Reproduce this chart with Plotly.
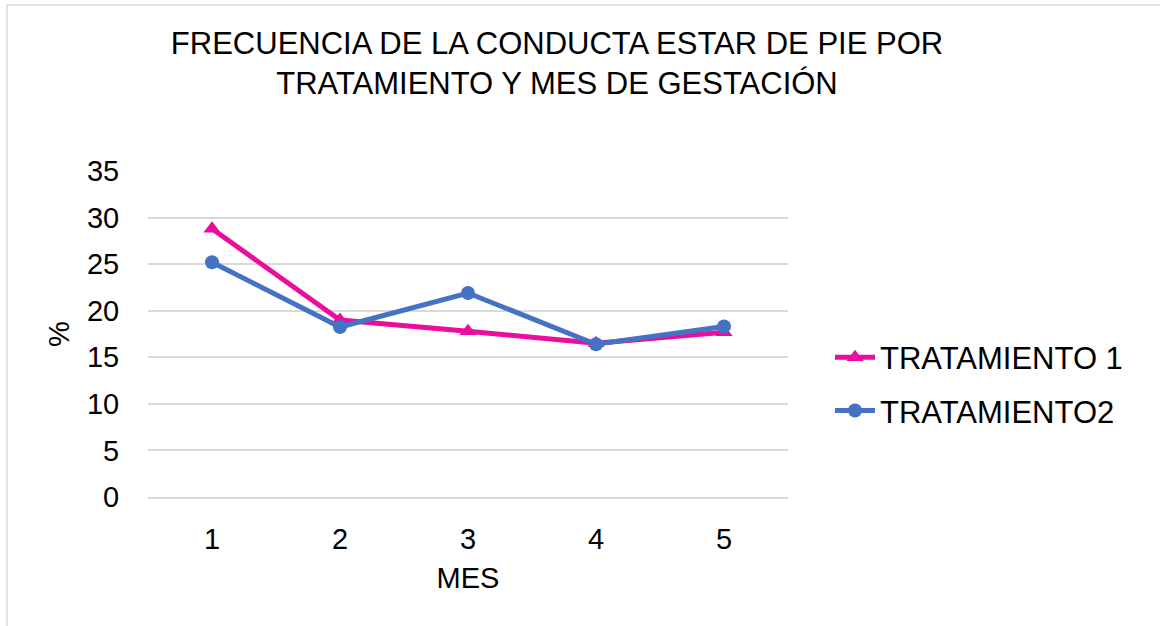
import plotly.graph_objects as go

meses = [1, 2, 3, 4, 5]
tratamiento1 = [28.8, 19.0, 17.8, 16.5, 17.7]
tratamiento2 = [25.2, 18.25, 21.9, 16.4, 18.3]
y_ticks = [0, 5, 10, 15, 20, 25, 30, 35]

FONT = "Liberation Sans, Arial, sans-serif"
PINK = "#E90E9E"
BLUE = "#4472C4"
GRID = "#D9D9D9"

fig = go.Figure()
fig.add_trace(go.Scatter(
    x=meses, y=tratamiento1, name="TRATAMIENTO 1", mode="lines+markers",
    legendgroup="t1",
    line=dict(color=PINK, width=5),
    marker=dict(symbol="triangle-up", size=15, color=PINK),
))
fig.add_trace(go.Scatter(
    x=meses, y=tratamiento2, name="TRATAMIENTO2", mode="lines+markers",
    legendgroup="t2",
    line=dict(color=BLUE, width=5),
    marker=dict(symbol="circle", size=14, color=BLUE),
))

W, H = 1160, 626
L, T = 148, 171
pw, ph = 640, 326
R = W - L - pw
B = H - T - ph

def px_to_paper_x(px):
    return (px - L) / pw

def px_to_paper_y(py):
    return (T + ph - py) / ph

fig.update_layout(
    width=W, height=H,
    margin=dict(l=L, r=R, t=T, b=B, autoexpand=False),
    paper_bgcolor="white", plot_bgcolor="white",
    font=dict(family=FONT, size=29, color="#000000"),
    title=dict(
        text="FRECUENCIA DE LA CONDUCTA ESTAR DE PIE POR<br>TRATAMIENTO Y MES DE GESTACIÓN",
        x=557 / W, xref="container", xanchor="center",
        y=1 - 54 / H, yref="container", yanchor="middle",
        font=dict(family=FONT, size=31, color="#000000"),
    ),
    xaxis=dict(
        range=[0.5, 5.5], tickvals=meses, ticktext=[str(m) for m in meses],
        showgrid=False, zeroline=False,
        showline=True, linecolor=GRID, linewidth=1.5,
        ticks="outside", ticklen=15, tickcolor="rgba(0,0,0,0)",
        title=dict(text="MES", standoff=14, font=dict(size=29)),
        tickfont=dict(size=29),
        automargin=False,
    ),
    yaxis=dict(
        range=[0, 35], tickvals=y_ticks,
        showgrid=True, gridcolor=GRID, gridwidth=1.5,
        zeroline=False, showline=False,
        ticks="outside", ticklen=22, tickcolor="rgba(0,0,0,0)",
        title=dict(text="%", standoff=8, font=dict(size=29)),
        tickfont=dict(size=29),
        automargin=False,
    ),
    legend=dict(
        x=px_to_paper_x(830), xanchor="left",
        y=px_to_paper_y(384), yanchor="middle",
        font=dict(size=31), tracegroupgap=10, itemwidth=40,
        bgcolor="rgba(0,0,0,0)",
    ),
    showlegend=True,
)

# chart border (left and top edges visible in the reference)
fig.add_shape(type="line", xref="paper", yref="paper",
              x0=px_to_paper_x(7), x1=px_to_paper_x(7),
              y0=px_to_paper_y(5), y1=px_to_paper_y(626),
              line=dict(color=GRID, width=1.5))
fig.add_shape(type="line", xref="paper", yref="paper",
              x0=px_to_paper_x(7), x1=px_to_paper_x(1160),
              y0=px_to_paper_y(5), y1=px_to_paper_y(5),
              line=dict(color=GRID, width=1.5))

fig.write_html("out.html", config={"displayModeBar": False},
               post_script="document.body.style.margin='0';")
